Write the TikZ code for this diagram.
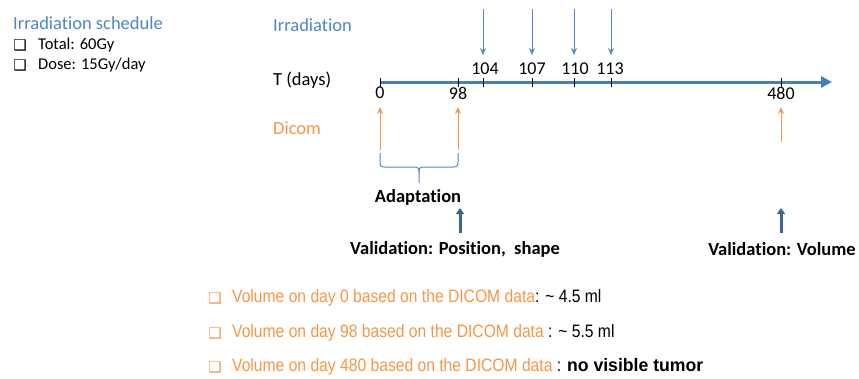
\documentclass[tikz,border=0pt]{standalone}
\usepackage{fontspec}
\setmainfont{Carlito}[Ligatures={NoCommon}]
\newfontfamily\listfont[FakeStretch=0.87]{Liberation Sans}
\newfontfamily\listbold[FakeStretch=0.98]{Liberation Sans Bold}
\newfontfamily\symfont{DejaVu Sans}
\usetikzlibrary{arrows.meta}
\definecolor{irrblue}{HTML}{4F86C6}
\definecolor{axblue}{HTML}{4A7EBB}
\definecolor{dorange}{HTML}{F79646}
\definecolor{dblue}{HTML}{3A6597}
\tikzset{
  lbl/.style={inner sep=0pt, font=\fontsize{18.5}{22}\selectfont},
  small/.style={inner sep=0pt, font=\fontsize{16.5}{20}\selectfont},
  num/.style={inner sep=0pt, font=\fontsize{18}{22}\selectfont},
  boldlbl/.style={inner sep=0pt, font=\fontsize{18.5}{22}\selectfont\bfseries},
  listtxt/.style={inner sep=0pt, anchor=west, font=\fontsize{18}{22}\listfont},
  cbox/.style={inner sep=0pt, font=\fontsize{15}{17}\symfont},
  irrarrow/.style={draw=irrblue, line width=1pt, -{Stealth[length=7pt,width=6pt]}},
  dicarrow/.style={draw=dorange, line width=1pt, -{Stealth[length=7pt,width=6pt]}},
  valarrow/.style={draw=dblue, line width=3pt, -{Triangle[length=6pt,width=8pt]}},
  tick/.style={draw=black, line width=0.8pt},
}
\begin{document}
\begin{tikzpicture}[x=1pt,y=-1pt]
\useasboundingbox (0,0) rectangle (859,378);
% left legend
\node[lbl, anchor=west, text=irrblue] (sched) at (13,23) {Irradiation schedule};
\node[cbox] (cb1) at (20,45) {❑};
\node[small, anchor=west] (tot) at (38,45) {Total: 60Gy};
\node[cbox] (cb2) at (20,65) {❑};
\node[small, anchor=west] (dose) at (38,65) {Dose: 15Gy/day};
% row labels
\node[lbl, anchor=west, text=irrblue] (irr) at (273,25) {Irradiation};
\node[lbl, anchor=west] (tdays) at (273,80) {T (days)};
\node[lbl, anchor=west, text=dorange] (dicom) at (273,128) {Dicom};
% axis
\coordinate (a0) at (380,82);
\coordinate (aend) at (832,82);
\draw[draw=axblue, line width=3pt, -{Triangle[length=11pt,width=11pt]}] (a0) -- (aend);
\foreach \x/\n in {380/t0,458/t98,483/t104,532/t107,574/t110,611/t113,781/t480}{
  \coordinate (\n top) at (\x,78);
  \coordinate (\n bot) at (\x,87);
  \draw[tick] (\n top) -- (\n bot);
}
% numbers
\node[num] (n0) at (380,93) {0};
\node[num] (n98) at (458,93) {98};
\node[num] (n480) at (781,93) {480};
\node[num] (n104) at (485,69) {104};
\node[num] (n107) at (532,69) {107};
\node[num] (n110) at (575,69) {110};
\node[num] (n113) at (610,69) {113};
% irradiation arrows
\foreach \x/\n in {483/i1,532/i2,574/i3,611/i4}{
  \coordinate (\n s) at (\x,9);
  \coordinate (\n e) at (\x,55);
  \draw[irrarrow] (\n s) -- (\n e);
}
% dicom arrows
\coordinate (d0s) at (380,150); \coordinate (d0e) at (380,107);
\coordinate (d1s) at (458,150); \coordinate (d1e) at (458,107);
\coordinate (d2s) at (781,142); \coordinate (d2e) at (781,107);
\draw[dicarrow] (d0s) -- (d0e);
\draw[dicarrow] (d1s) -- (d1e);
\draw[dicarrow] (d2s) -- (d2e);
% brace
\draw[irrblue, line width=1pt] (380,153) -- (380,162) .. controls (380,166) and (381,167) .. (385,167)
  -- (414,167) .. controls (418,167) and (419,168) .. (419,172) -- (419,183);
\draw[irrblue, line width=1pt] (458,153) -- (458,162) .. controls (458,166) and (457,167) .. (453,167)
  -- (424,167) .. controls (420,167) and (419,168) .. (419,172);
\node[boldlbl] (adapt) at (418,197) {Adaptation};
% validation arrows
\coordinate (v1s) at (460,233); \coordinate (v1e) at (460,208);
\coordinate (v2s) at (781,233); \coordinate (v2e) at (781,208);
\draw[valarrow] (v1s) -- (v1e);
\draw[valarrow] (v2s) -- (v2e);
\node[boldlbl] (val1) at (455,249) {Validation: Position,\ \ shape};
\node[boldlbl] (val2) at (782,249) {Validation: Volume};
% list
\node[cbox, text=dorange] (lb1) at (215,298) {❑};
\node[cbox, text=dorange] (lb2) at (215,333) {❑};
\node[cbox, text=dorange] (lb3) at (215,367) {❑};
\node[listtxt] (l1) at (232,298) {\color{dorange}Volume on day 0 based on the DICOM data\color{black}: \textasciitilde{} 4.5 ml};
\node[listtxt] (l2) at (232,333) {\color{dorange}Volume on day 98 based on the DICOM data \color{black}: \textasciitilde{} 5.5 ml};
\node[listtxt] (l3) at (232,367) {\color{dorange}Volume on day 480 based on the DICOM data \color{black}: {\listbold no visible tumor}};
\end{tikzpicture}
\end{document}
